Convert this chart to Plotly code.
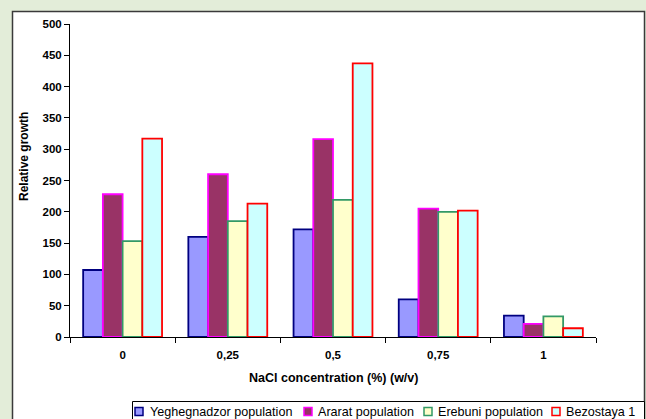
import plotly.graph_objects as go

# NaCl concentration categories (%, w/v) and relative growth per genotype
concentrations = ["0", "0,25", "0,5", "0,75", "1"]
yeghegnadzor = [107, 160, 172, 60, 34]
ararat = [228, 260, 316, 205, 21]
erebuni = [153, 185, 219, 200, 33]
bezostaya = [317, 213, 437, 202, 14]

series_names = ["Yeghegnadzor population", "Ararat population",
                "Erebuni population", "Bezostaya 1"]
series_values = [yeghegnadzor, ararat, erebuni, bezostaya]
fill_colors = ["#9999FF", "#993366", "#FFFFCC", "#CCFFFF"]
line_colors = ["#000080", "#FF00FF", "#339966", "#FF0000"]

W, H = 646, 419
L, R, T, B = 70, 50, 24, 82
PW, PH = W - L - R, H - T - B

def px(x):
    return (x - L) / PW

def py(y):
    return (H - B - y) / PH

FONT = "Arial, Liberation Sans, sans-serif"

fig = go.Figure()
for name, vals, fc, lc in zip(series_names, series_values, fill_colors, line_colors):
    fig.add_trace(go.Bar(
        x=concentrations, y=vals, name=name,
        marker=dict(color=fc, line=dict(color=lc, width=1.8)),
        showlegend=False,
    ))

shapes = [
    # white chart panel with dark frame over the green page
    dict(type="rect", xref="paper", yref="paper", layer="below",
         x0=px(12.5), x1=px(644.5), y0=py(430), y1=py(11.5),
         fillcolor="white", line=dict(color="#3a3a3a", width=1.5)),
    # legend frame
    dict(type="rect", xref="paper", yref="paper",
         x0=px(132.5), x1=px(644.5), y0=py(430), y1=py(401.5),
         fillcolor="white", line=dict(color="black", width=1)),
]

annotations = [
    dict(text="<b>Relative growth</b>", xref="paper", yref="paper",
         x=px(24), y=py(157), textangle=-90, showarrow=False,
         xanchor="center", yanchor="middle",
         font=dict(family=FONT, size=12, color="black")),
    dict(text="<b>NaCl concentration (%) (w/v)</b>", xref="paper", yref="paper",
         x=px(333), y=py(378), showarrow=False,
         xanchor="center", yanchor="middle",
         font=dict(family=FONT, size=12.5, color="black")),
]

# legend entries: swatch left edge and text left edge in pixels
swatch_x = [135, 304, 424, 552]
text_x = [148, 316, 436, 564]
for name, fc, lc, sx, tx in zip(series_names, fill_colors, line_colors, swatch_x, text_x):
    shapes.append(dict(type="rect", xref="paper", yref="paper",
                       x0=px(sx), x1=px(sx + 8), y0=py(415.5), y1=py(407.5),
                       fillcolor=fc, line=dict(color=lc, width=1.5)))
    annotations.append(dict(text=name, xref="paper", yref="paper",
                            x=px(tx), y=py(411.5), showarrow=False,
                            xanchor="left", yanchor="middle",
                            font=dict(family=FONT, size=12.6, color="black")))

fig.update_layout(
    width=W, height=H,
    margin=dict(l=L, r=R, t=T, b=B, pad=0),
    paper_bgcolor="#E3EDD9",
    plot_bgcolor="rgba(0,0,0,0)",
    barmode="group", bargap=0.25, bargroupgap=0,
    shapes=shapes, annotations=annotations,
    font=dict(family=FONT, color="black"),
)
fig.update_xaxes(
    type="category", tickson="boundaries",
    showline=True, linecolor="black", linewidth=1,
    ticks="outside", ticklen=5, tickcolor="black",
    ticklabelstandoff=7,
    showgrid=False, zeroline=False,
    tickfont=dict(family=FONT, size=11.5, color="black", weight="bold"),
)
fig.update_yaxes(
    range=[0, 500], dtick=50, tick0=0,
    showline=True, linecolor="black", linewidth=1,
    ticks="outside", ticklen=5, tickcolor="black",
    showgrid=False, zeroline=False,
    tickfont=dict(family=FONT, size=11.5, color="black", weight="bold"),
)

fig.write_html("out.html")
